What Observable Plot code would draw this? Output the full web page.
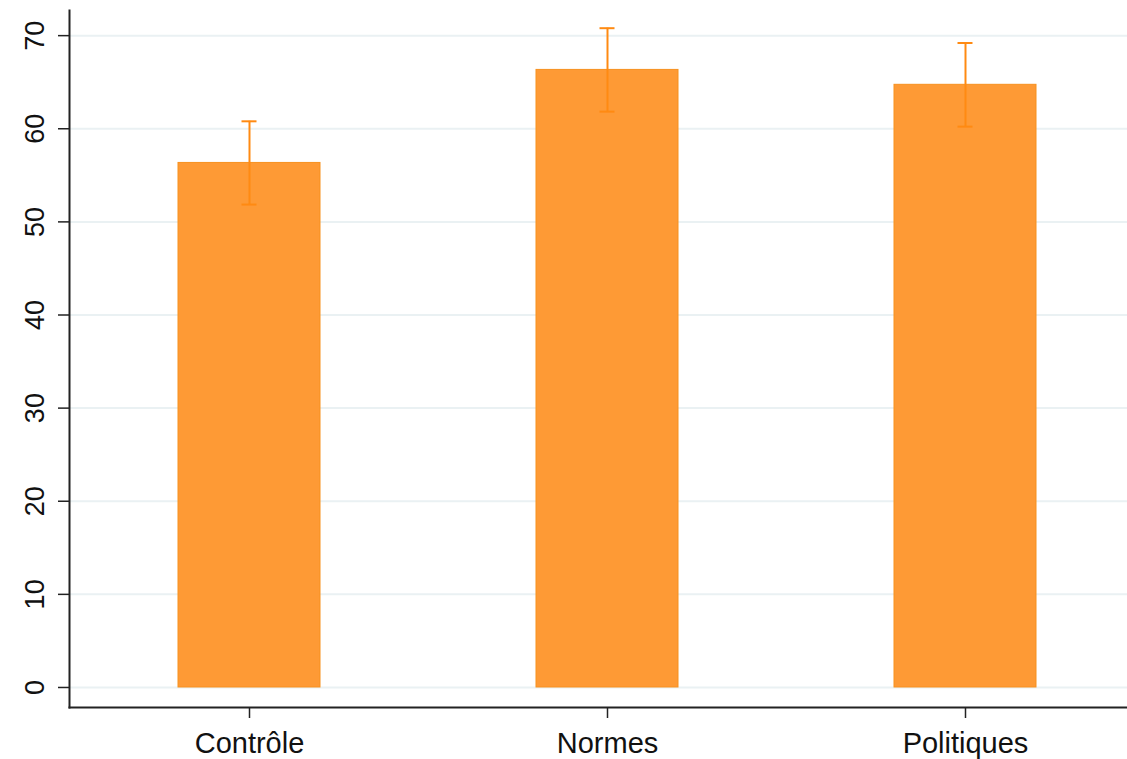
<!DOCTYPE html>
<html>
<head>
<meta charset="utf-8">
<script src="https://cdn.jsdelivr.net/npm/d3@7"></script>
<script src="https://cdn.jsdelivr.net/npm/@observablehq/plot@0.6"></script>
<style>
  html, body { margin: 0; padding: 0; background: #fff; }
  #chart svg { display: block; }
</style>
</head>
<body>
<div id="chart"></div>
<script>
const categories = ["Contrôle", "Normes", "Politiques"];
const means = [56.33, 66.32, 64.72];
const lower = [51.86, 61.84, 60.23];
const upper = [60.80, 70.80, 69.21];
const yTicks = [0, 10, 20, 30, 40, 50, 60, 70];

const data = categories.map((c, i) => ({cat: c, mean: means[i], lo: lower[i], hi: upper[i]}));

const barFill = "#fe9a35";
const errColor = "#ff8a12";

const chart = Plot.plot({
  width: 1127,
  height: 759,
  marginLeft: 69,
  marginRight: 0,
  marginTop: 10,
  marginBottom: 52,
  style: {fontFamily: "'Liberation Sans', Arial, sans-serif", background: "#fff"},
  x: {domain: categories, paddingInner: 0.604, paddingOuter: 0.2775, align: 0.543, label: null},
  y: {domain: [-2.15, 72.7], label: null},
  marks: [
    Plot.ruleY(yTicks, {stroke: "#eaf1f3", strokeWidth: 2}),
    Plot.barY(data, {x: "cat", y1: 0, y2: "mean", fill: barFill, stroke: "#f7911f", strokeWidth: 1}),
    Plot.ruleX(data, {x: "cat", y1: "lo", y2: "hi", stroke: errColor, strokeWidth: 2}),
    Plot.tickY(data, {x: "cat", y: "hi", stroke: errColor, strokeWidth: 2, insetLeft: 63.5, insetRight: 63.5}),
    Plot.tickY(data, {x: "cat", y: "lo", stroke: errColor, strokeWidth: 2, insetLeft: 63.5, insetRight: 63.5}),
    Plot.axisY({ticks: yTicks, tickSize: 11, tickPadding: 15, tickRotate: -90, fontSize: 27, stroke: "#222", strokeWidth: 1.5, color: "#111", label: null}),
    Plot.axisX({tickSize: 11, tickPadding: 14, fontSize: 29, color: "#111", stroke: "#222", strokeWidth: 1.5, label: null}),
    Plot.frame({anchor: "left", stroke: "#222", strokeWidth: 2}),
    Plot.frame({anchor: "bottom", stroke: "#222", strokeWidth: 2})
  ]
});
document.getElementById("chart").appendChild(chart);
</script>
</body>
</html>
